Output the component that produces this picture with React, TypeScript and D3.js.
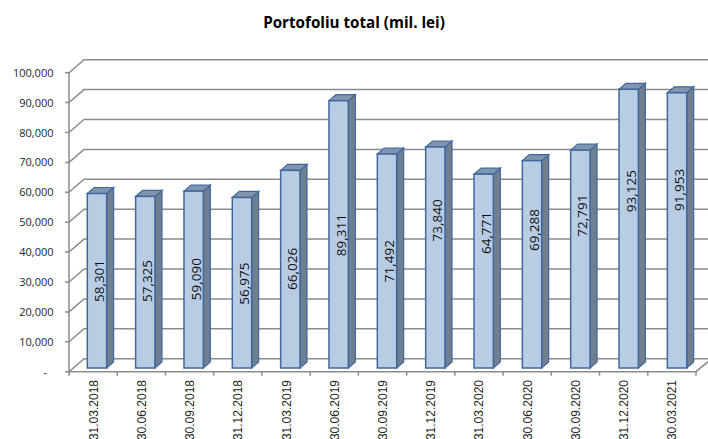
import { useEffect, useRef } from "react";
import * as d3 from "d3";

const dates = [
  "31.03.2018", "30.06.2018", "30.09.2018", "31.12.2018", "31.03.2019", "30.06.2019", "30.09.2019",
  "31.12.2019", "31.03.2020", "30.06.2020", "30.09.2020", "31.12.2020", "30.03.2021",
];
const values = [58301, 57325, 59090, 56975, 66026, 89311, 71492, 73840, 64771, 69288, 72791, 93125, 91953];
// labels were dragged by hand in the original, so each has its own height (in axis units)
const labelValues = [29070, 29070, 29700, 28200, 33100, 44400, 35700, 49300, 45100, 46100, 50900, 59100, 59500];
const ticks = [0, 10000, 20000, 30000, 40000, 50000, 60000, 70000, 80000, 90000, 100000];

const width = 708;
const height = 439;
const left = 69;
const right = 696;
const top = 72.7;
const bottom = 371.7;
// wall depth of the 3d box, and of each bar
const wallX = 15;
const wallY = 13;
const barX = 7;
const barY = 6;

export default function App() {
  const svgRef = useRef<SVGSVGElement>(null);

  useEffect(() => {
    const svg = d3.select(svgRef.current);
    svg.selectAll("*").remove();

    const x = d3.scaleBand<string>().domain(dates).range([87.3, 686.7]).paddingInner(0.6).paddingOuter(0);
    const cat = d3.scaleBand<string>().domain(dates).range([left, right]);
    const y = d3.scaleLinear().domain([0, 100000]).range([bottom, top]);
    // bars stand a little behind the front edge of the floor
    const barY0 = d3.scaleLinear().domain([0, 100000]).range([368, 68.7]);
    const fmt = d3.format(",");
    const grey = "#8c8c8c";

    svg.append("text")
      .attr("x", 354).attr("y", 28).attr("text-anchor", "middle")
      .attr("font-family", "'Open Sans', sans-serif").attr("font-size", 15.2).attr("font-weight", 700)
      .attr("fill", "#000").text("Portofoliu total (mil. lei)");

    // gridlines + wall
    const grid = svg.append("g").attr("fill", "none").attr("stroke", grey).attr("stroke-width", 1.5);
    ticks.forEach((t) => {
      const yy = y(t);
      grid.append("path").attr("d", `M${left - 4},${yy}H${left}L${left + wallX},${yy - wallY}H${width}`);
    });
    grid.append("path").attr("d", `M${left},${top}V${bottom}H${right}L${width},${bottom - 10}`);
    dates.concat("end").forEach((_, i) => {
      const xx = left + cat.step() * i;
      grid.append("line").attr("x1", xx).attr("x2", xx).attr("y1", bottom).attr("y2", bottom + 4);
    });

    svg.append("g")
      .selectAll("text")
      .data(ticks)
      .join("text")
      .attr("x", (d) => (d === 0 ? 47 : 53.5))
      .attr("y", (d) => y(d) + 4)
      .attr("text-anchor", "end")
      .attr("font-family", "'Open Sans', sans-serif")
      .attr("font-size", 11)
      .attr("fill", "#262626")
      .text((d) => (d === 0 ? "-" : fmt(d)));

    const bars = svg.append("g")
      .selectAll("g")
      .data(dates.map((d, i) => ({ date: d, value: values[i], label: labelValues[i] })))
      .join("g");

    const edge = "#41689c";
    // side
    bars.append("path")
      .attr("d", (d) => {
        const x1 = x(d.date)! + x.bandwidth();
        const y0 = barY0(0);
        const y1 = barY0(d.value);
        return `M${x1},${y0}L${x1 + barX},${y0 - barY}V${y1 - barY}L${x1},${y1}Z`;
      })
      .attr("fill", "#707f90").attr("stroke", edge).attr("stroke-width", 1.2);
    // top
    bars.append("path")
      .attr("d", (d) => {
        const x0 = x(d.date)!;
        const x1 = x0 + x.bandwidth();
        const y1 = barY0(d.value);
        return `M${x0},${y1}L${x0 + barX},${y1 - barY}H${x1 + barX}L${x1},${y1}Z`;
      })
      .attr("fill", "#8295ae").attr("stroke", edge).attr("stroke-width", 1.2);
    // front
    bars.append("rect")
      .attr("x", (d) => x(d.date)!)
      .attr("y", (d) => barY0(d.value))
      .attr("width", x.bandwidth())
      .attr("height", (d) => barY0(0) - barY0(d.value))
      .attr("fill", "#b8cce4").attr("stroke", edge).attr("stroke-width", 1.5);

    bars.append("text")
      .attr("transform", (d) => `translate(${x(d.date)! + x.bandwidth() / 2 + 7},${barY0(d.label)}) rotate(-90)`)
      .attr("text-anchor", "middle")
      .attr("font-family", "'Open Sans', sans-serif")
      .attr("font-size", 13.5)
      .attr("fill", "#111")
      .text((d) => fmt(d.value));

    // category labels, the last digits run to the picture's bottom edge
    svg.append("g")
      .selectAll("text")
      .data(dates)
      .join("text")
      .attr("transform", (d) => `translate(${cat(d)! + cat.bandwidth() / 2 + 4.5},380) rotate(-90)`)
      .attr("text-anchor", "end")
      .attr("font-family", "'Liberation Sans', sans-serif")
      .attr("font-size", 12)
      .attr("fill", "#262626")
      .text((d) => d);
  }, []);

  return (
    <svg
      ref={svgRef}
      width={width}
      height={height}
      viewBox={`0 0 ${width} ${height}`}
      style={{ position: "fixed", left: 0, top: 0, background: "#fff" }}
    />
  );
}
